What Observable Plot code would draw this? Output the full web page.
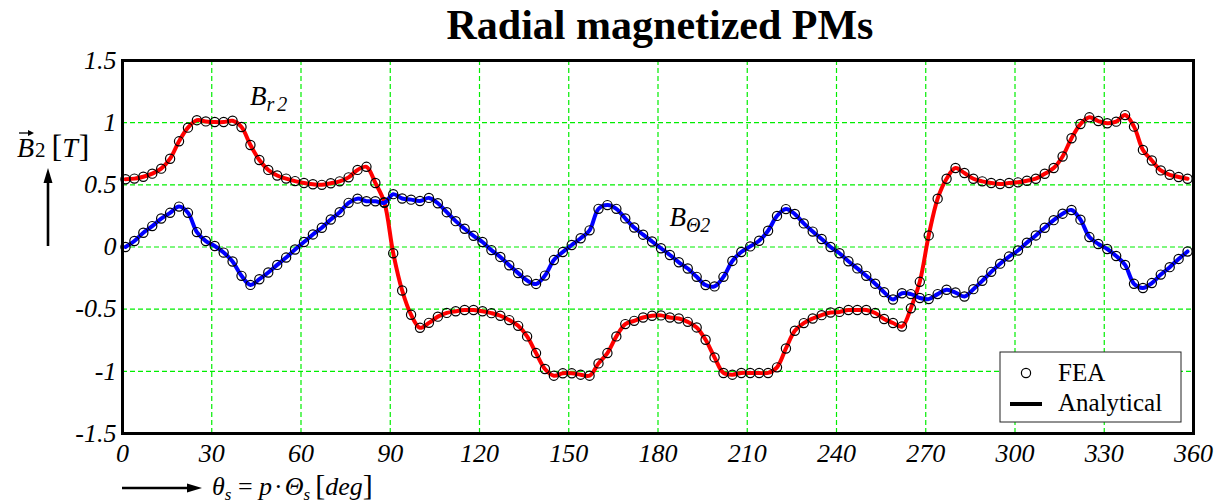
<!DOCTYPE html>
<html>
<head>
<meta charset="utf-8">
<script src="https://cdn.jsdelivr.net/npm/d3@7"></script>
<script src="https://cdn.jsdelivr.net/npm/@observablehq/plot@0.6"></script>
<style>
  html, body { margin: 0; padding: 0; background: white; }
  #chart svg { display: block; }
</style>
</head>
<body>
<div id="chart"></div>
<script>
// ---- data ----
const titleText = "Radial magnetized PMs";
const xTicks = [0, 30, 60, 90, 120, 150, 180, 210, 240, 270, 300, 330, 360];
const yTicks = [-1.5, -1, -0.5, 0, 0.5, 1, 1.5];
// FEA sample angles (deg), one every 3 degrees
const angles = d3.range(1, 360, 3);
// radial component B_r2 [T]
const br = [
  0.545, 0.55, 0.565, 0.59, 0.63, 0.71, 0.85, 0.96, 1.02, 1.01,
  1.005, 1.005, 1.015, 0.965, 0.82, 0.70, 0.62, 0.575, 0.55, 0.53,
  0.515, 0.505, 0.50, 0.513, 0.528, 0.56, 0.62, 0.645, 0.515, 0.36,
  -0.05, -0.35, -0.545, -0.65, -0.61, -0.56, -0.53, -0.517, -0.507, -0.507,
  -0.517, -0.532, -0.553, -0.588, -0.634, -0.719, -0.853, -0.981, -1.035, -1.016,
  -1.016, -1.027, -1.035, -0.936, -0.853, -0.719, -0.62, -0.594, -0.567, -0.553,
  -0.55, -0.567, -0.575, -0.602, -0.647, -0.746, -0.888, -1.013, -1.027, -1.013,
  -1.013, -1.013, -1.013, -0.968, -0.816, -0.674, -0.612, -0.575, -0.548, -0.527,
  -0.522, -0.507, -0.507, -0.507, -0.531, -0.579, -0.611, -0.64, -0.493, -0.28,
  0.093, 0.389, 0.549, 0.635, 0.595, 0.549, 0.528, 0.515, 0.507, 0.515,
  0.52, 0.533, 0.549, 0.589, 0.635, 0.728, 0.875, 0.989, 1.043, 1.013,
  0.995, 1.008, 1.061, 0.968, 0.781, 0.696, 0.616, 0.581, 0.563, 0.549
];
// tangential component B_Theta2 [T]
const bt = [
  0.0, 0.048, 0.115, 0.168, 0.229, 0.275, 0.325, 0.275, 0.12, 0.048,
  0.008, -0.045, -0.117, -0.232, -0.305, -0.259, -0.205, -0.144, -0.085, -0.02,
  0.04, 0.101, 0.155, 0.221, 0.28, 0.355, 0.389, 0.368, 0.368, 0.355,
  0.425, 0.39, 0.381, 0.37, 0.395, 0.352, 0.28, 0.208, 0.147, 0.09,
  0.04, -0.025, -0.08, -0.147, -0.21, -0.27, -0.297, -0.23, -0.105, -0.04,
  0.016, 0.07, 0.134, 0.307, 0.337, 0.307, 0.23, 0.157, 0.099, 0.044,
  -0.01, -0.064, -0.123, -0.173, -0.24, -0.306, -0.317, -0.24, -0.112, -0.04,
  0.005, 0.05, 0.131, 0.25, 0.305, 0.265, 0.19, 0.124, 0.064, 0.0,
  -0.05, -0.115, -0.172, -0.232, -0.295, -0.363, -0.422, -0.372, -0.379, -0.41,
  -0.419, -0.379, -0.344, -0.366, -0.398, -0.339, -0.272, -0.2, -0.134, -0.077,
  -0.028, 0.035, 0.093, 0.155, 0.216, 0.268, 0.298, 0.22, 0.08, 0.024,
  -0.016, -0.072, -0.144, -0.296, -0.33, -0.29, -0.222, -0.162, -0.096, -0.036
];
// curve label anchors (deg, T)
const labelBr = {x: 43, y: 1.14};
const labelBt = {x: 184, y: 0.165};

const data = angles.map((a, i) => ({a, br: br[i], bt: bt[i]}));

const serif = "'Liberation Serif', 'Times New Roman', serif";

const plot = Plot.plot({
  width: 1221,
  height: 503,
  marginTop: 60,
  marginBottom: 70,
  marginLeft: 122,
  marginRight: 28,
  style: {fontFamily: serif, fontSize: "26px", fontStyle: "italic", background: "white", color: "black"},
  x: {domain: [0, 360], ticks: xTicks, tickFormat: d => String(d), tickSize: 0, tickPadding: 10, label: null},
  y: {domain: [-1.5, 1.5], ticks: yTicks, tickFormat: d => String(d), tickSize: 0, tickPadding: 6, label: null},
  marks: [
    Plot.gridX(xTicks.slice(1, -1), {stroke: "#00ee00", strokeOpacity: 1, strokeWidth: 1.2, strokeDasharray: "5,3"}),
    Plot.gridY(yTicks.slice(1, -1), {stroke: "#00ee00", strokeOpacity: 1, strokeWidth: 1.2, strokeDasharray: "5,3"}),
    Plot.line(data, {x: "a", y: "br", stroke: "#ff0000", strokeWidth: 4, curve: "catmull-rom"}),
    Plot.line(data, {x: "a", y: "bt", stroke: "#0000ff", strokeWidth: 4, curve: "catmull-rom"}),
    Plot.dot(data, {x: "a", y: "br", r: 4.6, stroke: "black", strokeWidth: 1.2, fill: "none"}),
    Plot.dot(data, {x: "a", y: "bt", r: 4.6, stroke: "black", strokeWidth: 1.2, fill: "none"}),
    Plot.frame({stroke: "black", strokeWidth: 3})
  ]
});

document.getElementById("chart").appendChild(plot);

const svg = d3.select(plot);
const sx = plot.scale("x"), sy = plot.scale("y");

// title
svg.append("text")
  .attr("x", 660).attr("y", 39)
  .attr("text-anchor", "middle")
  .style("font-family", serif).style("font-size", "42px")
  .style("font-weight", "bold").style("font-style", "normal")
  .text(titleText);

// y-axis label: vec B_2 [T] with an upward arrow
const yl = svg.append("text").attr("x", 17).attr("y", 157).attr("text-anchor", "start")
  .style("font-family", serif).style("font-size", "28px").style("font-style", "normal");
yl.append("tspan").style("font-style", "italic").text("B");
yl.append("tspan").style("font-size", "21px").attr("dx", 1).text("2");
yl.append("tspan").style("font-size", "32px").attr("dx", 6).text("[");
yl.append("tspan").style("font-style", "italic").text("T");
yl.append("tspan").style("font-size", "32px").attr("dx", 1).text("]");
svg.append("line").attr("x1", 19).attr("x2", 31).attr("y1", 133).attr("y2", 133)
  .attr("stroke", "black").attr("stroke-width", 1.3);
svg.append("path").attr("d", "M34,133 L28,130 L28,136 Z").attr("fill", "black");
svg.append("line").attr("x1", 48).attr("x2", 48).attr("y1", 246).attr("y2", 180)
  .attr("stroke", "black").attr("stroke-width", 2.6);
svg.append("path").attr("d", "M48,168 L43.5,183 L52.5,183 Z").attr("fill", "black");

// x-axis label with arrow
svg.append("line").attr("x1", 122).attr("x2", 190).attr("y1", 488).attr("y2", 488)
  .attr("stroke", "black").attr("stroke-width", 2.6);
svg.append("path").attr("d", "M202,488 L187,483.5 L187,492.5 Z").attr("fill", "black");
const xl = svg.append("text").attr("x", 212).attr("y", 495).attr("text-anchor", "start")
  .style("font-family", serif).style("font-size", "26px").style("font-style", "normal");
xl.append("tspan").style("font-style", "italic").text("θ");
xl.append("tspan").style("font-style", "italic").style("font-size", "17px").attr("dy", 5).text("s");
xl.append("tspan").attr("dy", -5).text(" = ");
xl.append("tspan").style("font-style", "italic").text("p");
xl.append("tspan").attr("dx", 2).text("·");
xl.append("tspan").attr("dx", 2).style("font-style", "italic").text("Θ");
xl.append("tspan").style("font-style", "italic").style("font-size", "17px").attr("dy", 5).text("s");
xl.append("tspan").attr("dy", -5).attr("dx", 5).style("font-size", "30px").text("[");
xl.append("tspan").style("font-style", "italic").text("deg");
xl.append("tspan").style("font-size", "30px").text("]");

// curve labels
const lb1 = svg.append("text").attr("x", sx.apply(labelBr.x)).attr("y", sy.apply(labelBr.y))
  .attr("text-anchor", "start")
  .style("font-family", serif).style("font-size", "27px").style("font-style", "italic");
lb1.append("tspan").text("B");
lb1.append("tspan").style("font-size", "20px").attr("dy", 6).text("r");
lb1.append("tspan").style("font-size", "20px").attr("dx", 3).text("2");
const lb2 = svg.append("text").attr("x", sx.apply(labelBt.x)).attr("y", sy.apply(labelBt.y))
  .attr("text-anchor", "start")
  .style("font-family", serif).style("font-size", "27px").style("font-style", "italic");
lb2.append("tspan").text("B");
lb2.append("tspan").style("font-size", "20px").attr("dy", 6).text("Θ2");

// legend
const lg = svg.append("g").attr("text-anchor", "start");
lg.append("rect").attr("x", 1000).attr("y", 352).attr("width", 181).attr("height", 70)
  .attr("fill", "white").attr("stroke", "#222").attr("stroke-width", 1);
lg.append("circle").attr("cx", 1026).attr("cy", 373).attr("r", 4.6)
  .attr("fill", "none").attr("stroke", "black").attr("stroke-width", 1.2);
lg.append("text").attr("x", 1058).attr("y", 381).text("FEA")
  .style("font-family", serif).style("font-size", "25px").style("font-style", "normal");
lg.append("line").attr("x1", 1010).attr("x2", 1042).attr("y1", 404).attr("y2", 404)
  .attr("stroke", "black").attr("stroke-width", 4);
lg.append("text").attr("x", 1058).attr("y", 411).text("Analytical")
  .style("font-family", serif).style("font-size", "25px").style("font-style", "normal");
</script>
</body>
</html>
